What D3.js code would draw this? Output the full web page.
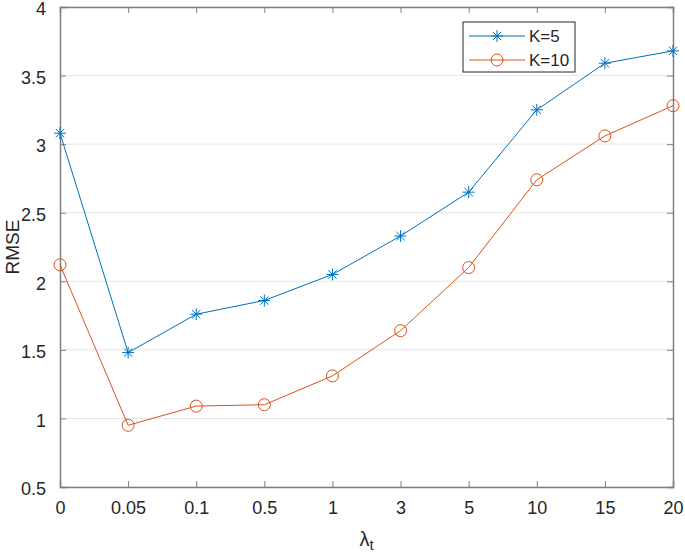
<!DOCTYPE html>
<html lang="en">
<head>
  <meta charset="UTF-8">
  <script src="https://d3js.org/d3.v7.min.js"></script>
  <title>RMSE vs lambda_t</title>
  <style>
    body { margin: 0; background: #fff; }
    text { font-family: "Liberation Sans", Arial, sans-serif; fill: #262626; }
  </style>
</head>
<body>
  <svg id="chart" width="685" height="555"></svg>
  <script>
    // 데이터
    const lambdas = ["0", "0.05", "0.1", "0.5", "1", "3", "5", "10", "15", "20"];
    const k5 = [3.08, 1.48, 1.76, 1.86, 2.05, 2.33, 2.65, 3.25, 3.59, 3.68];
    const k10 = [2.12, 0.95, 1.09, 1.10, 1.31, 1.64, 2.10, 2.74, 3.06, 3.28];
    const yTicks = [0.5, 1, 1.5, 2, 2.5, 3, 3.5, 4];

    const svg = d3.select("#chart");
    const plotL = 60, plotR = 673, plotT = 7, plotB = 487;

    const xScale = d3.scalePoint().domain(lambdas).range([plotL, plotR]);
    const yScale = d3.scaleLinear().domain([0.5, 4]).range([plotB, plotT]);

    // 가로 그리드
    svg.append("g").selectAll("line")
      .data(yTicks)
      .join("line")
      .attr("x1", plotL).attr("x2", plotR)
      .attr("y1", d => yScale(d)).attr("y2", d => yScale(d))
      .attr("stroke", "#e6e6e6").attr("stroke-width", 1);

    // 축 (MATLAB 스타일: 안쪽 눈금, 박스)
    const axisColor = "#262626";
    const xAxis = d3.axisBottom(xScale).tickSize(-6).tickPadding(14);
    const yAxis = d3.axisLeft(yScale).tickValues(yTicks).tickSize(-6).tickPadding(14)
      .tickFormat(d3.format("~g"));

    const gx = svg.append("g").attr("transform", `translate(0,${plotB})`).call(xAxis);
    const gy = svg.append("g").attr("transform", `translate(${plotL},0)`).call(yAxis);
    const gxTop = svg.append("g").attr("transform", `translate(0,${plotT})`)
      .call(d3.axisTop(xScale).tickSize(-6).tickFormat(""));
    const gyRight = svg.append("g").attr("transform", `translate(${plotR},0)`)
      .call(d3.axisRight(yScale).tickValues(yTicks).tickSize(-6).tickFormat(""));

    [gx, gy, gxTop, gyRight].forEach(g => {
      g.select(".domain").attr("stroke", "#808080").attr("stroke-width", 1.5).attr("fill", "none");
      g.selectAll(".tick line").attr("stroke", "#808080");
      g.selectAll(".tick text").attr("font-size", 18).attr("fill", axisColor)
        .style("font-family", "'Liberation Sans', Arial, sans-serif");
    });
    // y 라벨은 눈금보다 살짝 아래
    gy.selectAll(".tick text").attr("y", 2);

    // 선
    const line = d3.line()
      .x((d, i) => xScale(lambdas[i]))
      .y(d => yScale(d));

    const series = [
      { name: "K=5", values: k5, color: "#0072BD", marker: "star" },
      { name: "K=10", values: k10, color: "#D95319", marker: "circle" }
    ];

    const drawMarker = (g, type, x, y, color) => {
      if (type === "circle") {
        g.append("circle").attr("cx", x).attr("cy", y).attr("r", 6)
          .attr("fill", "none").attr("stroke", color).attr("stroke-width", 1);
      } else {
        const r = 6;
        const segs = [[-r, 0, r, 0], [0, -r, 0, r],
          [-r * 0.7, -r * 0.7, r * 0.7, r * 0.7], [-r * 0.7, r * 0.7, r * 0.7, -r * 0.7]];
        segs.forEach(s => g.append("line")
          .attr("x1", x + s[0]).attr("y1", y + s[1]).attr("x2", x + s[2]).attr("y2", y + s[3])
          .attr("stroke", color).attr("stroke-width", 1));
      }
    };

    series.forEach(s => {
      svg.append("path")
        .attr("d", line(s.values))
        .attr("fill", "none")
        .attr("stroke", s.color)
        .attr("stroke-width", 1);
      const mg = svg.append("g");
      s.values.forEach((v, i) => drawMarker(mg, s.marker, xScale(lambdas[i]), yScale(v), s.color));
    });

    // 범례
    const legend = svg.append("g").attr("transform", "translate(463,22)");
    legend.append("rect").attr("width", 112).attr("height", 50)
      .attr("fill", "#fff").attr("stroke", "#262626").attr("stroke-width", 1);
    series.forEach((s, i) => {
      const y = 14 + i * 24;
      legend.append("line").attr("x1", 6).attr("x2", 62).attr("y1", y).attr("y2", y)
        .attr("stroke", s.color).attr("stroke-width", 1);
      drawMarker(legend, s.marker, 34, y, s.color);
      legend.append("text").attr("x", 66).attr("y", y + 6)
        .attr("font-size", 17).text(s.name);
    });

    // 축 제목
    svg.append("text")
      .attr("transform", `translate(19,${(plotT + plotB) / 2}) rotate(-90)`)
      .attr("text-anchor", "middle")
      .attr("font-size", 19)
      .text("RMSE");

    const xl = svg.append("text")
      .attr("x", (plotL + plotR) / 2)
      .attr("y", 546)
      .attr("text-anchor", "middle")
      .attr("font-size", 20);
    xl.append("tspan").text("λ");
    xl.append("tspan").attr("dy", 4).attr("font-size", 15).text("t");
  </script>
</body>
</html>
